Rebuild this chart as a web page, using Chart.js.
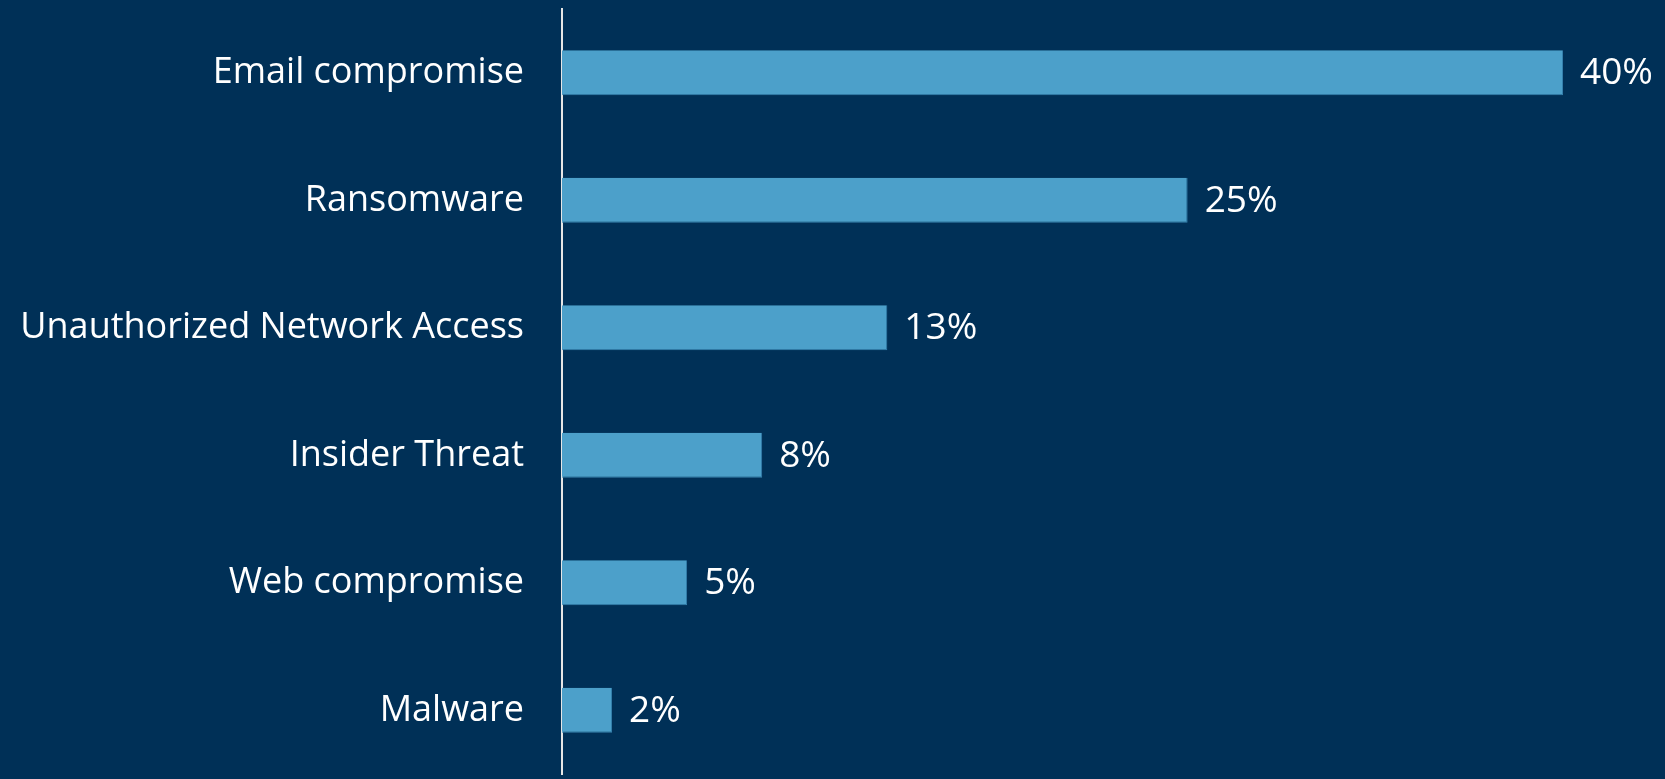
<!DOCTYPE html>
<html>
<head>
<meta charset="utf-8">
<script src="https://cdn.jsdelivr.net/npm/chart.js@4/dist/chart.umd.min.js"></script>
<style>
  html, body { margin: 0; padding: 0; background: #003057; }
  #wrap { width: 1665px; height: 779px; }
</style>
</head>
<body>
<div id="wrap"><canvas id="grafico" width="1665" height="779"></canvas></div>
<script>
const categorias = [
    "Email compromise",
    "Ransomware",
    "Unauthorized Network Access",
    "Insider Threat",
    "Web compromise",
    "Malware"
];
const valores = [40, 25, 13, 8, 5, 2];

const fuente = "'Open Sans'";

// etiquetas de porcentaje al final de cada barra
const etiquetasValor = {
    id: "etiquetasValor",
    afterDatasetsDraw(chart) {
        const ctx = chart.ctx;
        const meta = chart.getDatasetMeta(0);
        ctx.save();
        ctx.fillStyle = "#ffffff";
        ctx.font = "37px " + fuente;
        ctx.textAlign = "left";
        ctx.textBaseline = "middle";
        meta.data.forEach((bar, i) => {
            ctx.fillText(valores[i] + "%", bar.x + 17, bar.y + 1);
        });
        ctx.restore();
    }
};

new Chart(document.getElementById("grafico").getContext("2d"), {
    type: "bar",
    data: {
        labels: categorias,
        datasets: [{
            data: valores,
            backgroundColor: "#4ca0ca",
            borderColor: "#3580ad",
            borderWidth: { top: 0, right: 1, bottom: 1, left: 0 },
            borderSkipped: false,
            categoryPercentage: 1,
            barPercentage: 0.353
        }]
    },
    options: {
        indexAxis: "y",
        responsive: false,
        animation: false,
        layout: { padding: { top: 9, bottom: 5, right: 102, left: 0 } },
        plugins: {
            legend: { display: false },
            tooltip: { enabled: false }
        },
        scales: {
            x: { display: false, min: 0, max: 40 },
            y: {
                afterFit(scale) {
                    // ancho fijo del eje y sin margen extra arriba/abajo
                    scale.width = 562;
                    scale.paddingTop = 0;
                    scale.paddingBottom = 0;
                },
                grid: { display: false, drawTicks: false },
                border: { display: true, color: "#e6e6e6", width: 2 },
                ticks: {
                    color: "#ffffff",
                    padding: 38,
                    font: { family: fuente, size: 36 }
                }
            }
        }
    },
    plugins: [etiquetasValor]
});
</script>
</body>
</html>
